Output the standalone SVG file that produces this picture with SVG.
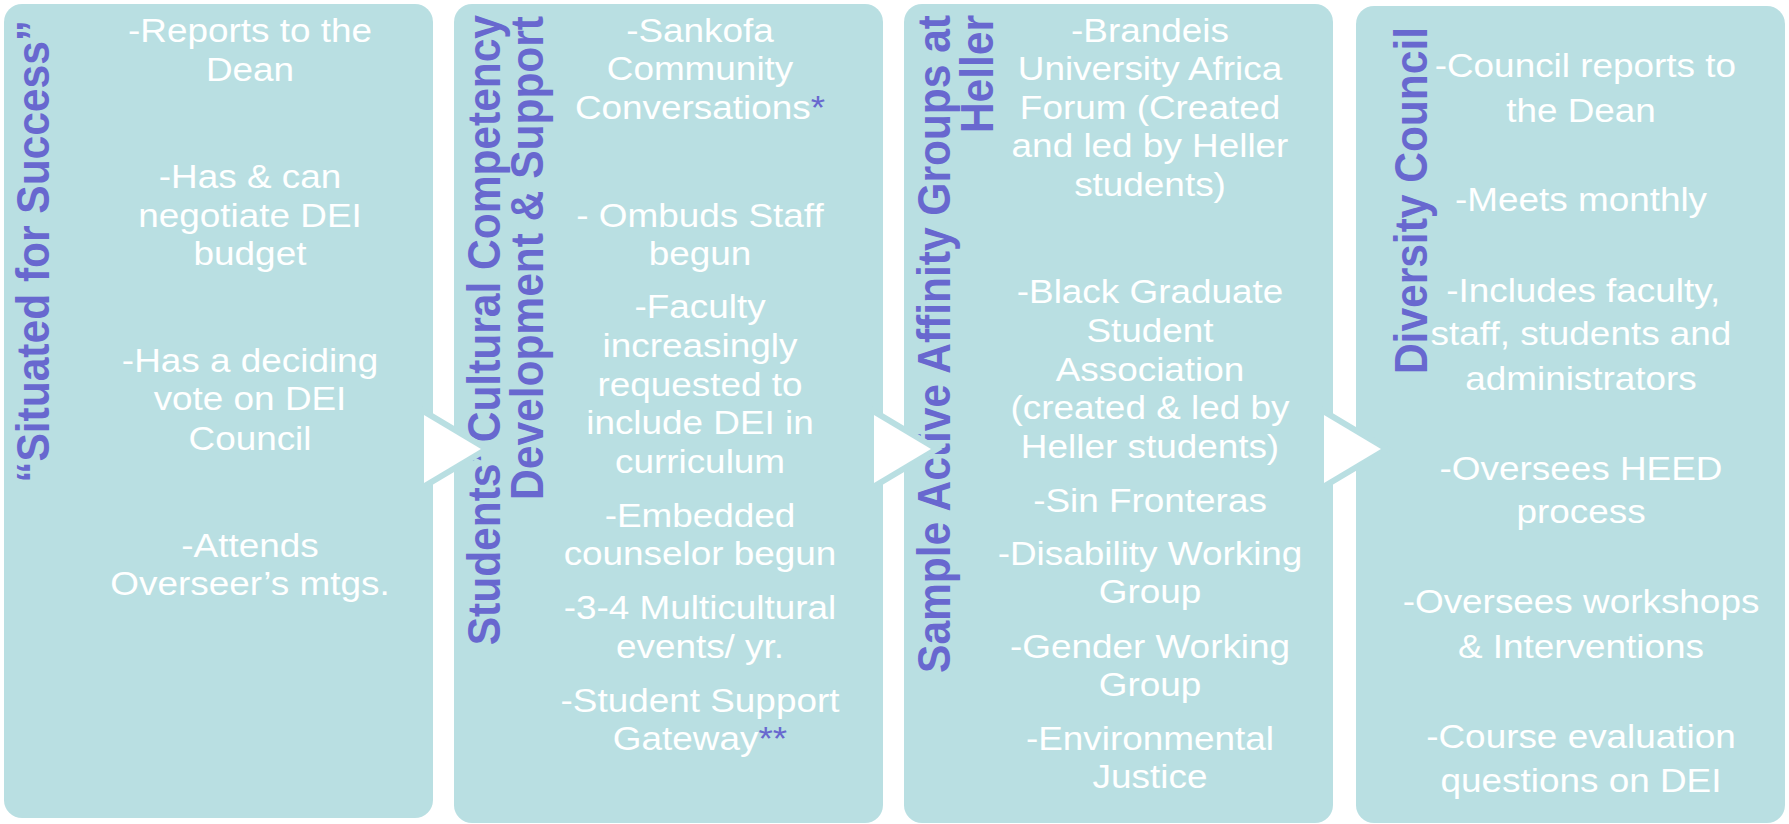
<svg xmlns="http://www.w3.org/2000/svg" width="1789" height="824" viewBox="0 0 1789 824">
  <style>
    .box { fill: #B9DFE2; }
    .body { font-family: "Liberation Sans", Arial, sans-serif; font-size: 34px; fill: #FFFFFF; text-anchor: middle; }
    .title { font-family: "Liberation Sans", Arial, sans-serif; font-size: 42.5px; font-weight: bold; fill: #6868CF; text-anchor: end; }
    .mark { fill: #6868CF; }
    .arrow { fill: #FFFFFF; stroke: #B9DFE2; stroke-width: 12; stroke-linejoin: miter; paint-order: stroke; }
  </style>

  <!-- Stage 1 -->
  <g id="node-situated">
    <rect class="box" x="4" y="4" width="429" height="814" rx="18"/>
    <text class="title" transform="translate(49 20) scale(1.085 1) rotate(-90)">“Situated for Success”</text>
    <g transform="translate(250 0) scale(1.085 1)">
      <text class="body" x="0" y="42">-Reports to the</text>
      <text class="body" x="0" y="81">Dean</text>
      <text class="body" x="0" y="188">-Has &amp; can</text>
      <text class="body" x="0" y="227">negotiate DEI</text>
      <text class="body" x="0" y="265">budget</text>
      <text class="body" x="0" y="372">-Has a deciding</text>
      <text class="body" x="0" y="410">vote on DEI</text>
      <text class="body" x="0" y="450">Council</text>
      <text class="body" x="0" y="557">-Attends</text>
      <text class="body" x="0" y="595">Overseer’s mtgs.</text>
    </g>
  </g>

  <!-- Stage 2 -->
  <g id="node-competency">
    <rect class="box" x="454" y="4" width="429" height="819" rx="18"/>
    <text class="title" transform="translate(500 15) scale(1.085 1) rotate(-90)">Students’ Cultural Competency</text>
    <text class="title" transform="translate(543 16) scale(1.085 1) rotate(-90)">Development &amp; Support</text>
    <g transform="translate(700 0) scale(1.085 1)">
      <text class="body" x="0" y="42">-Sankofa</text>
      <text class="body" x="0" y="80">Community</text>
      <text class="body" x="0" y="119">Conversations<tspan class="mark">*</tspan></text>
      <text class="body" x="0" y="227">- Ombuds Staff</text>
      <text class="body" x="0" y="265">begun</text>
      <text class="body" x="0" y="318">-Faculty</text>
      <text class="body" x="0" y="357">increasingly</text>
      <text class="body" x="0" y="396">requested to</text>
      <text class="body" x="0" y="434">include DEI in</text>
      <text class="body" x="0" y="473">curriculum</text>
      <text class="body" x="0" y="527">-Embedded</text>
      <text class="body" x="0" y="565">counselor begun</text>
      <text class="body" x="0" y="619">-3-4 Multicultural</text>
      <text class="body" x="0" y="658">events/ yr.</text>
      <text class="body" x="0" y="712">-Student Support</text>
      <text class="body" x="0" y="750">Gateway<tspan class="mark">**</tspan></text>
    </g>
  </g>

  <!-- Stage 3 -->
  <g id="node-affinity">
    <rect class="box" x="904" y="4" width="429" height="819" rx="18"/>
    <text class="title" transform="translate(950 15) scale(1.085 1) rotate(-90)">Sample Active Affinity Groups at</text>
    <text class="title" transform="translate(993 15) scale(1.085 1) rotate(-90)">Heller</text>
    <g transform="translate(1150 0) scale(1.085 1)">
      <text class="body" x="0" y="42">-Brandeis</text>
      <text class="body" x="0" y="80">University Africa</text>
      <text class="body" x="0" y="119">Forum (Created</text>
      <text class="body" x="0" y="157">and led by Heller</text>
      <text class="body" x="0" y="196">students)</text>
      <text class="body" x="0" y="303">-Black Graduate</text>
      <text class="body" x="0" y="342">Student</text>
      <text class="body" x="0" y="381">Association</text>
      <text class="body" x="0" y="419">(created &amp; led by</text>
      <text class="body" x="0" y="458">Heller students)</text>
      <text class="body" x="0" y="512">-Sin Fronteras</text>
      <text class="body" x="0" y="565">-Disability Working</text>
      <text class="body" x="0" y="603">Group</text>
      <text class="body" x="0" y="658">-Gender Working</text>
      <text class="body" x="0" y="696">Group</text>
      <text class="body" x="0" y="750">-Environmental</text>
      <text class="body" x="0" y="788">Justice</text>
    </g>
  </g>

  <!-- Stage 4 -->
  <g id="node-council">
    <rect class="box" x="1356" y="6" width="429" height="817" rx="18"/>
    <text class="title" transform="translate(1427 27) scale(1.085 1) rotate(-90)">Diversity Council</text>
    <g transform="translate(1581 0) scale(1.085 1)">
      <text class="body" x="4" y="77">-Council reports to</text>
      <text class="body" x="0" y="122">the Dean</text>
      <text class="body" x="0" y="211">-Meets monthly</text>
      <text class="body" x="2" y="302">-Includes faculty,</text>
      <text class="body" x="0" y="345">staff, students and</text>
      <text class="body" x="0" y="390">administrators</text>
      <text class="body" x="0" y="480">-Oversees HEED</text>
      <text class="body" x="0" y="523">process</text>
      <text class="body" x="0" y="613">-Oversees workshops</text>
      <text class="body" x="0" y="658">&amp; Interventions</text>
      <text class="body" x="0" y="748">-Course evaluation</text>
      <text class="body" x="0" y="792">questions on DEI</text>
    </g>
  </g>

  <!-- Flow arrows between stages -->
  <g id="connectors">
    <polygon class="arrow" points="424,415 481,449 424,483"/>
    <polygon class="arrow" points="874,415 931,449 874,483"/>
    <polygon class="arrow" points="1324,415 1381,449 1324,483"/>
  </g>
</svg>
